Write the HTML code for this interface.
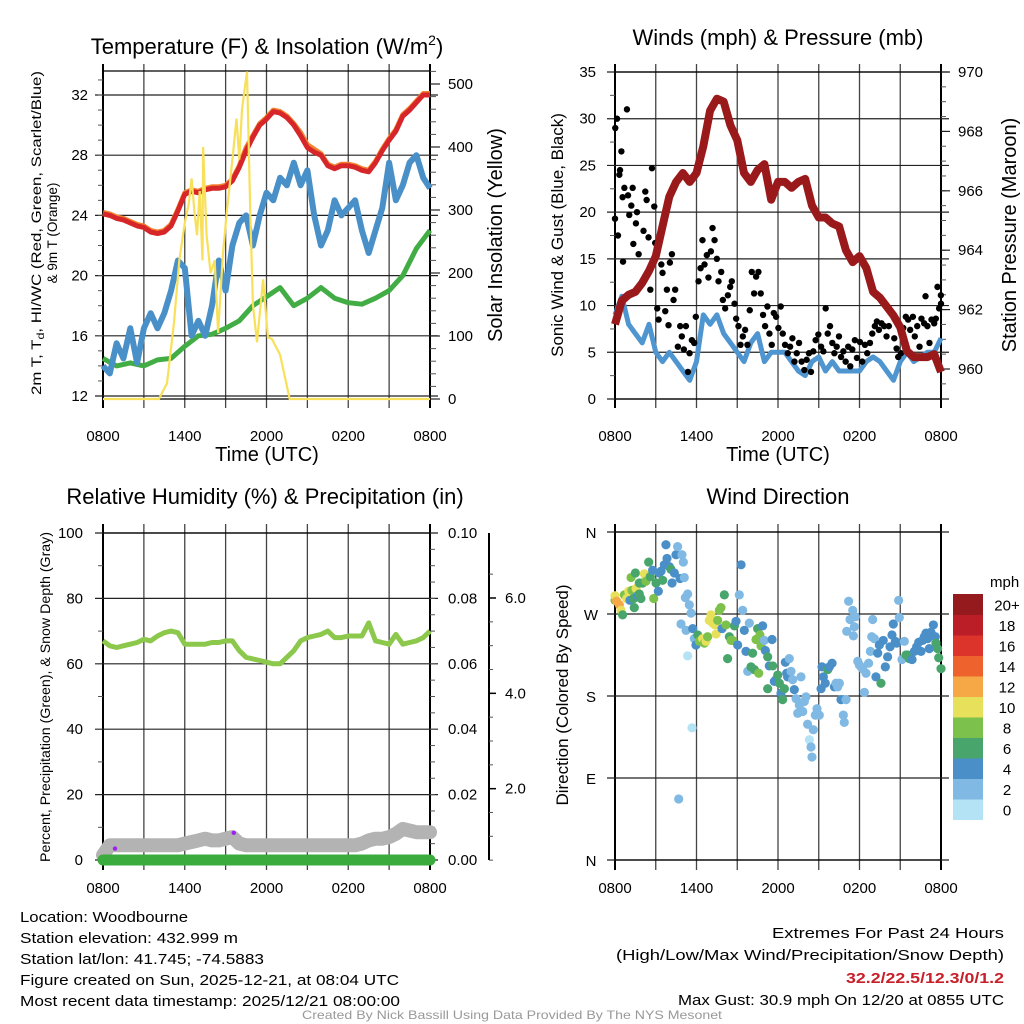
<!DOCTYPE html>
<html><head><meta charset="utf-8"><style>
html,body{margin:0;padding:0;background:#fff;}
svg{display:block;font-family:"Liberation Sans",sans-serif;}
</style></head><body>
<svg id="chart" width="1024" height="1024" viewBox="0 0 1024 1024" xmlns="http://www.w3.org/2000/svg">
<g id="p1"></g>
<g id="p2"></g>
<g id="p3"></g>
<g id="p4"></g>
<g id="txt">
<text x="267" y="54" font-size="22" text-anchor="middle">Temperature (F) &amp; Insolation (W/m<tspan font-size="14" dy="-9">2</tspan><tspan dy="9">)</tspan></text>
<text x="778" y="45" font-size="22" text-anchor="middle">Winds (mph) &amp; Pressure (mb)</text>
<text x="265" y="504" font-size="22" text-anchor="middle">Relative Humidity (%) &amp; Precipitation (in)</text>
<text x="778" y="504" font-size="22" text-anchor="middle">Wind Direction</text>
<text x="267" y="461" font-size="20" text-anchor="middle">Time (UTC)</text>
<text x="778" y="461" font-size="20" text-anchor="middle">Time (UTC)</text>
<text transform="translate(41,233) rotate(-90)" font-size="13.5" text-anchor="middle" textLength="324" lengthAdjust="spacingAndGlyphs">2m T, T<tspan font-size="10" dy="3">d</tspan><tspan dy="-3">, HI/WC (Red, Green, Scarlet/Blue)</tspan></text>
<text transform="translate(57,233) rotate(-90)" font-size="13.5" text-anchor="middle">&amp; 9m T (Orange)</text>
<text transform="translate(502,235) rotate(-90)" font-size="20" text-anchor="middle">Solar Insolation (Yellow)</text>
<text transform="translate(563,235) rotate(-90)" font-size="17" text-anchor="middle">Sonic Wind &amp; Gust (Blue, Black)</text>
<text transform="translate(1016,235) rotate(-90)" font-size="20" text-anchor="middle">Station Pressure (Maroon)</text>
<text transform="translate(50,697) rotate(-90)" font-size="14" text-anchor="middle" textLength="330" lengthAdjust="spacingAndGlyphs">Percent, Precipitation (Green), &amp; Snow Depth (Gray)</text>
<text transform="translate(568,695) rotate(-90)" font-size="17" text-anchor="middle">Direction (Colored By Speed)</text>
<text x="20" y="922" font-size="15" textLength="168" lengthAdjust="spacingAndGlyphs">Location: Woodbourne</text>
<text x="20" y="943" font-size="15" textLength="218" lengthAdjust="spacingAndGlyphs">Station elevation: 432.999 m</text>
<text x="20" y="964" font-size="15" textLength="244" lengthAdjust="spacingAndGlyphs">Station lat/lon: 41.745; -74.5883</text>
<text x="20" y="985" font-size="15" textLength="379" lengthAdjust="spacingAndGlyphs">Figure created on Sun, 2025-12-21, at 08:04 UTC</text>
<text x="20" y="1006" font-size="15" textLength="380" lengthAdjust="spacingAndGlyphs">Most recent data timestamp: 2025/12/21 08:00:00</text>
<text x="1004" y="938" font-size="15" text-anchor="end" textLength="232" lengthAdjust="spacingAndGlyphs">Extremes For Past 24 Hours</text>
<text x="1004" y="960" font-size="15" text-anchor="end" textLength="388" lengthAdjust="spacingAndGlyphs">(High/Low/Max Wind/Precipitation/Snow Depth)</text>
<text x="1004" y="983" font-size="15" font-weight="bold" fill="#c8202a" text-anchor="end" textLength="158" lengthAdjust="spacingAndGlyphs">32.2/22.5/12.3/0/1.2</text>
<text x="1004" y="1005" font-size="15" text-anchor="end" textLength="326" lengthAdjust="spacingAndGlyphs">Max Gust: 30.9 mph On 12/20 at 0855 UTC</text>
<text x="512" y="1019" font-size="12" fill="#999" text-anchor="middle" textLength="420" lengthAdjust="spacingAndGlyphs">Created By Nick Bassill Using Data Provided By The NYS Mesonet</text>
</g>
</svg>
<script>
// ---------- data ----------
const timeLabels = ["0800","1400","2000","0200","0800"];
const halfHours = [0,0.5,1,1.5,2,2.5,3,3.5,4,4.5,5,5.5,6,6.5,7,7.5,8,8.5,9,9.5,10,10.5,11,11.5,12,12.5,13,13.5,14,14.5,15,15.5,16,16.5,17,17.5,18,18.5,19,19.5,20,20.5,21,21.5,22,22.5,23,23.5,24];
const hours = [0,1,2,3,4,5,6,7,8,9,10,11,12,13,14,15,16,17,18,19,20,21,22,23,24];
const tempRed = [24.1,24.0,23.8,23.7,23.5,23.3,23.2,22.9,22.8,22.9,23.3,24.3,25.4,25.6,25.5,25.7,25.8,25.8,25.9,26.3,27.2,28.3,29.2,30.0,30.4,30.9,30.8,30.5,30.0,29.3,28.5,28.2,28.0,27.3,27.1,27.3,27.3,27.2,27.0,26.9,27.5,28.3,29.0,29.6,30.6,31.0,31.5,32.0,32.0];
const temp9m = [24.2,24.1,23.9,23.8,23.6,23.4,23.3,23.0,22.9,23.0,23.4,24.4,25.5,25.7,25.6,25.8,25.9,25.9,26.0,26.4,27.3,28.5,29.3,30.1,30.5,31.0,30.9,30.6,30.1,29.5,28.7,28.4,28.1,27.4,27.2,27.4,27.4,27.3,27.1,27.0,27.6,28.4,29.1,29.7,30.7,31.1,31.6,32.1,32.1];
const tempBlue = [14,13.5,15.5,14.5,16.5,14.2,16.5,17.5,16.5,17.5,19,21,20.5,16,17,16,18,21,19,22,23.5,24,22,24,25.5,25,26.5,26,27.5,26,27,24,22,23,25,24,24.5,25,23,21.5,23,24.5,27.5,25,26,27.5,28,26.5,25.8];
const dewGreen = [14.5,14,14.2,14,14.4,14.5,15.3,16,16.1,16.5,17,18,18.6,19.2,18,18.5,19.2,18.5,18.2,18.1,18.5,19,20,21.8,23];
const insolTimes = [0,4.1,4.7,5.2,5.6,6.0,6.3,6.5,6.7,6.9,7.1,7.3,7.35,7.6,7.9,8.2,8.45,8.8,9.1,9.5,9.8,10.0,10.2,10.57,10.8,11.0,11.3,11.75,12.1,12.4,13.0,13.7,24];
const insolValues = [0,0,25,120,220,280,310,350,300,260,330,220,400,260,200,220,105,230,300,380,445,380,460,520,300,150,90,190,98,95,70,0,0];
const pressure = [961.5,962.3,962.5,962.6,962.9,963.3,963.8,964.8,965.8,966.3,966.6,966.3,966.6,967.5,968.7,969.1,969.0,968.2,967.7,966.6,966.3,966.7,966.9,965.7,966.3,966.3,966.1,966.3,966.4,965.5,965.1,965.1,964.9,964.8,964.0,963.6,963.8,963.4,962.6,962.4,962.1,961.8,961.4,960.6,960.4,960.4,960.4,960.5,959.9];
const windSpeed = [9,11,8,7,6,8,5,4,5,4,3,2,4,9,8,9,7,6,5,4,6,7,4,5,5,5,4,3,2.5,4,4.5,3,4,3,3,3,3,4,4.5,4,3,2,4,5,4,4.5,5,5,6.5];
const gustTimes = [0,0.02,0.15,0.22,0.32,0.37,0.47,0.56,0.69,0.88,0.96,1.05,1.2,1.35,1.3,1.54,1.62,1.74,0.59,2.1,2.23,2.33,2.47,2.6,2.72,2.89,2.96,3.11,3.21,3.41,3.5,3.7,3.82,3.94,4.04,4.19,4.31,4.43,4.63,4.8,4.92,5.07,5.22,5.37,5.49,5.66,5.83,5.95,6.15,6.3,6.44,6.59,6.76,6.88,7.06,7.18,7.33,7.5,7.62,7.82,7.94,8.11,8.31,8.48,8.6,8.8,8.92,9.09,9.24,9.41,9.58,9.75,9.92,10.07,10.24,10.39,10.56,10.73,10.9,11.05,11.22,11.37,11.54,11.69,11.86,12.03,12.2,12.35,12.52,12.72,12.89,13.06,13.21,13.38,13.55,13.74,13.94,14.11,14.28,14.43,14.6,14.77,14.97,15.17,15.34,15.51,15.66,15.83,16,16.15,16.32,16.49,16.64,16.81,16.98,17.17,17.32,17.47,17.66,17.81,18.03,18.2,18.4,18.57,18.77,18.94,19.13,19.28,19.43,19.62,19.82,19.99,20.16,20.36,20.56,20.73,20.85,21.05,21.22,21.41,21.58,21.73,21.93,22.07,22.25,22.42,22.56,22.76,22.86,23,23.15,23.3,23.5,23.62,23.74,23.86,23.99,24];
const gustValues = [19.3,29,30,17.5,24,24.5,26.5,21.6,22.6,31,21.8,19.7,20.7,16.6,22.6,18.8,20,15.5,14.7,18,22.2,21.3,17.3,11.7,24.7,20.6,16.7,9.7,8.5,14.4,13.5,9.4,11.7,7.9,14.6,15.5,10.6,11.7,5.6,7.8,6.7,5.3,7.8,2.9,4.9,6.3,6,8.8,12.6,14,17,14.4,15.4,13,15.8,18.3,17,15,12.6,13.6,10.6,9.7,11.1,12,12.6,10.2,8.6,7.8,5.8,6.7,7.4,5.8,9.5,13.6,11.3,13.1,13.6,11.3,9,7.8,9.9,7,5.8,9.2,8.8,7.6,9.9,7,5.8,4.9,5.6,6.5,4,4.9,6,4,3.1,4.2,4.9,2.9,5.1,6.3,6.9,5.6,5.1,9.7,7,7.8,6,4.9,5.6,6.7,4.5,5.1,4,5.6,3.5,5.3,6.3,4.4,6.1,4,5.8,4.9,6,7,7.8,8.3,7.4,8.1,7.8,6.7,7.8,9.2,6.5,5.4,4.5,4.9,7.6,8.8,8.5,7.4,8.8,6.7,7.8,5.6,8.6,8.1,11,7.8,6,8.5,8.1,8.6,12,9.7,11.1,10.2];
const rhValues = [67,65.5,65,65.5,66,66.5,67.5,67,68.5,69.5,70,69.5,66,66,66,66,66.5,66.5,67,67,64,62,61.5,61,60.5,60,60,62,64,67,68,68.5,69,70,68,68,68.5,68.5,68.5,72.5,67,66.5,66,69,66,66.5,67,68,70];
const snowValues = [1.5,4.5,4.5,4.5,4.5,4.5,4.5,4.5,4.5,4.5,4.5,4.5,5,5.5,6,6.5,6,6,6.5,7,5,4.5,4.5,4.5,4.5,4.5,4.5,4.5,4.5,4.5,4.5,4.5,4.5,4.5,4.5,4.5,4.5,4.5,5,6,6.5,6.5,7,8,9.5,9,8.5,8.5,8.5];
const precipValues = [0,0,0,0,0,0,0,0,0,0,0,0,0,0,0,0,0,0,0,0,0,0,0,0,0];
const markerTimes = [0.88,9.6];
const markerValues = [3.5,8.3];
const dirTimes = [0,0,0.12,0.32,0.44,0.56,0.69,0.86,1.01,1.1,1.25,1.37,1.42,1.55,1.67,1.79,1.91,1.18,1.5,1.79,2.04,2.16,2.28,2.48,2.6,2.77,2.85,3.02,3.19,3.26,3.39,3.51,3.63,3.75,3.83,4.0,4.12,4.2,4.37,4.49,4.61,4.79,4.93,5.03,5.1,5.18,5.35,5.47,5.6,4.86,5.23,5.72,5.84,5.96,6.09,6.21,6.45,6.58,6.7,6.82,6.94,7.07,7.19,7.36,7.44,7.56,7.68,7.8,7.88,8.05,8.17,8.29,8.42,8.54,8.66,8.79,8.91,9.03,9.15,9.28,9.4,9.52,9.64,9.77,9.89,10.01,10.13,10.26,10.38,10.5,10.58,10.67,10.75,10.87,10.99,11.07,11.24,11.36,11.56,11.24,11.61,11.73,11.85,11.98,12.1,12.22,12.34,12.47,12.54,12.64,12.71,12.83,12.96,13.08,13.2,13.33,13.45,13.57,13.69,13.82,13.94,14.06,14.18,14.31,14.43,14.5,14.6,14.75,14.87,15.04,15.17,15.24,15.34,15.48,15.66,15.78,15.98,16.15,16.27,16.39,16.52,16.64,16.81,16.88,17.01,17.06,17.2,17.3,17.5,17.62,17.55,17.69,17.87,17.99,18.11,18.23,18.36,18.48,18.67,18.8,18.97,18.9,19.09,19.21,19.34,19.46,19.58,19.75,19.9,20.07,20.25,20.39,20.49,20.64,20.74,20.88,20.93,21.13,21.3,21.42,21.55,21.67,21.87,22.04,22.21,22.36,22.53,22.65,22.77,22.9,23.02,23.14,23.26,23.44,23.58,23.63,23.75,23.83,24.0,4.69,5.67,5.35];
const dirValues = [285,290,284,280,274,269,291,287,295,285,296,287,277,298,290,292,287,310,315,304,304,314,306,327,311,318,287,304,295,315,317,307,324,346,331,322,319,304,315,335,344,309,335,327,310,288,292,280,271,259,252,254,243,236,247,240,243,238,240,245,263,269,260,258,248,263,274,277,254,291,258,221,245,241,241,257,262,236,291,324,274,252,229,207,260,212,227,209,242,254,205,247,235,257,241,230,223,213,242,188,213,196,198,203,194,183,176,188,217,205,201,221,207,198,187,177,161,170,201,163,174,179,149,132,124,113,143,159,166,159,188,212,201,194,209,212,216,190,194,190,194,176,159,151,176,251,284,264,274,256,246,267,218,214,212,210,184,205,216,229,264,245,243,201,227,236,194,241,212,223,234,247,259,240,238,285,266,220,240,225,225,221,220,229,234,239,229,241,245,249,243,232,250,258,245,238,232,222,210,67,145,224];
const dirSpeeds = [8,10,12,13,10,6,8,10,10,4,8,6,6,10,4,6,6,8,6,6,6,10,8,6,6,4,8,6,4,4,4,6,4,4,4,4,6,4,4,4,2,4,2,2,2,2,2,2,2,2,2,4,2,4,6,8,10,8,10,8,10,10,10,10,10,8,8,8,4,6,8,6,6,8,8,6,4,4,2,4,2,4,4,2,2,6,6,6,8,6,8,8,8,4,2,4,6,4,4,6,6,4,4,6,6,4,6,6,4,4,4,2,2,2,4,2,2,2,2,2,2,2,2,0,2,2,2,2,2,2,4,4,4,4,6,4,4,4,2,2,2,4,2,2,2,2,2,2,2,2,2,2,2,2,2,2,2,2,2,2,2,2,2,4,4,4,6,4,4,4,4,4,4,4,4,2,2,2,2,6,6,6,4,4,4,4,4,4,4,4,4,4,4,4,4,6,6,6,6,2,0,0];
const speedBins = ["0","2","4","6","8","10","12","14","16","18","20+"];
const speedColors = ["#b4e3f6","#80b9e3","#4a8fc7","#48a66d","#7cc14b","#e6e05a","#f5a845","#ee632d","#dc342a","#bb1e26","#941a1d"];

// ---------- helpers ----------
const NS="http://www.w3.org/2000/svg";
function mk(parent,tag,attrs){const e=document.createElementNS(NS,tag);for(const k in attrs)e.setAttribute(k,attrs[k]);parent.appendChild(e);return e;}
function xAxis(x0,x1){return t=>x0+t/24*(x1-x0);}
function lin(d0,d1,r0,r1){return v=>r0+(v-d0)/(d1-d0)*(r1-r0);}
function pathD(xs,ys,fx,fy){return xs.map((t,i)=>(i?"L":"M")+fx(t).toFixed(1)+","+fy(ys[i]).toFixed(1)).join("");}

function frame(g,x0,x1,yt,yb,gridY,labelX,xlabY,vExtTop,vExtBot){
  for(let h=0;h<=24;h+=3){
    const x=x0+h/24*(x1-x0);
    const l=mk(g,"line",{x1:x,x2:x,y1:vExtTop,y2:vExtBot,stroke:(h==0||h==24)?"#000":"#444","stroke-width":(h==0||h==24)?2:1.3});
    
    
  }
  gridY.forEach(y=>{
    const l=mk(g,"line",{x1:x0-8,x2:x1+8,y1:y,y2:y,stroke:"#222","stroke-width":1.2});
    
    
  });
  mk(g,"line",{x1:x0,x2:x1,y1:yt,y2:yt,stroke:"#000","stroke-width":1.3});
  mk(g,"line",{x1:x0,x2:x1,y1:yb,y2:yb,stroke:"#000","stroke-width":1.3});
  if(labelX){
    timeLabels.forEach((s,i)=>{
      const t=mk(g,"text",{x:x0+i*6/24*(x1-x0),y:xlabY,"font-size":15,"text-anchor":"middle"});
      t.textContent=s;
      
      
    });
  }
}
function yLabels(g,vals,fy,x,anchor,fmt){
  vals.forEach(v=>{
    const t=mk(g,"text",{x:x,y:fy(v)+5,"font-size":15,"text-anchor":anchor});
    t.textContent=fmt?fmt(v):String(v);
    
    
  });
}
function minorTicks(g,x,vals,fy,dir,len){
  vals.forEach(v=>{mk(g,"line",{x1:x,x2:x+dir*len,y1:fy(v),y2:fy(v),stroke:"#555","stroke-width":1});});
}

// ---------- panel 1 ----------
(function(){
  const g=document.getElementById("p1");
  const fx=xAxis(103,430), fy=lin(12,32,396,95), fi=lin(0,500,399,84);
  frame(g,103,430,71,399,[12,16,20,24,28,32].map(fy),true,441,64,408);
  const lt=[];for(let v=13;v<=33;v+=1)lt.push(v);minorTicks(g,103,lt,fy,-1,5);
  const rt=[];for(let v=20;v<=520;v+=20)rt.push(v);minorTicks(g,430,rt,fi,1,6);
  [0,100,200,300,400,500].forEach(v=>mk(g,"line",{x1:430,x2:440,y1:fi(v),y2:fi(v),stroke:"#222","stroke-width":1.2}));
  yLabels(g,[12,16,20,24,28,32],fy,88,"end");
  yLabels(g,[0,100,200,300,400,500],fi,448,"start");
  const s=[["9m-temperature-line",halfHours,temp9m,"#f3812f",5],["temperature-line",halfHours,tempRed,"#d7262a",5],["dewpoint-line",hours,dewGreen,"#42ad45",5],["windchill-line",halfHours,tempBlue,"#4a90c8",6]];
  s.forEach(([n,xs,ys,c,w])=>{
    const p=mk(g,"path",{d:pathD(xs,ys,fx,fy),fill:"none",stroke:c,"stroke-width":w,"stroke-linejoin":"round"});
    
    
  });
  const p=mk(g,"path",{d:pathD(insolTimes,insolValues,fx,fi),fill:"none",stroke:"#f8e05a","stroke-width":2.2});
  
  
})();

// ---------- panel 2 ----------
(function(){
  const g=document.getElementById("p2");
  const fx=xAxis(615,941), fy=lin(0,35,399,72), fp=lin(960,970,369,72);
  frame(g,615,941,72,399,[0,5,10,15,20,25,30,35].map(fy),true,441,64,408);
  const lt=[];for(let v=2.5;v<35;v+=5)lt.push(v);minorTicks(g,615,lt,fy,-1,5);
  const rt=[];for(let v=959.5;v<=970;v+=0.5)rt.push(v);minorTicks(g,941,rt,fp,1,5);
  [960,962,964,966,968,970].forEach(v=>mk(g,"line",{x1:941,x2:950,y1:fp(v),y2:fp(v),stroke:"#222","stroke-width":1.2}));
  yLabels(g,[0,5,10,15,20,25,30,35],fy,596,"end");
  yLabels(g,[960,962,964,966,968,970],fp,958,"start");
  const w=mk(g,"path",{d:pathD(halfHours,windSpeed,fx,fy),fill:"none",stroke:"#4f95d0","stroke-width":5,"stroke-linejoin":"round"});
  
  
  gustTimes.forEach((t,i)=>{
    const c=mk(g,"circle",{cx:fx(t),cy:fy(gustValues[i]),r:3.2,fill:"#000"});
    
    
  });
  const p=mk(g,"path",{d:pathD(halfHours,pressure,fx,fp),fill:"none",stroke:"#9a1a1c","stroke-width":8,"stroke-linejoin":"round"});
  
  
})();

// ---------- panel 3 ----------
(function(){
  const g=document.getElementById("p3");
  const fx=xAxis(103,430), fy=lin(0,100,860,533), fr=lin(0,0.1,860,533), fs=lin(0,6,884,598);
  frame(g,103,430,533,860,[0,20,40,60,80,100].map(fy),true,893,524,870);
  const lt=[];for(let v=10;v<100;v+=20)lt.push(v);minorTicks(g,103,lt,fy,-1,5);
  const rt=[];for(let v=0.005;v<0.1;v+=0.005)rt.push(v);minorTicks(g,430,rt,fr,1,5);
  yLabels(g,[0,20,40,60,80,100],fy,83,"end");
  yLabels(g,[0,0.02,0.04,0.06,0.08,0.1],fr,448,"start",v=>v.toFixed(2));
  const ax=mk(g,"line",{x1:489,x2:489,y1:533,y2:860,stroke:"#000","stroke-width":2});
  
  
  const st=[];for(let v=0.5;v<=6.75;v+=0.5)st.push(v);minorTicks(g,489,st.filter(v=>fs(v)>=533),fs,1,4);
  [2,4,6].forEach(v=>mk(g,"line",{x1:489,x2:496,y1:fs(v),y2:fs(v),stroke:"#000","stroke-width":1.5}));
  yLabels(g,[2,4,6],fs,505,"start",v=>v.toFixed(1));
  const sn=mk(g,"path",{d:pathD(halfHours,snowValues,fx,fy),fill:"none",stroke:"#b3b3b3","stroke-width":14,"stroke-linejoin":"round","stroke-linecap":"round"});
  
  
  const pr=mk(g,"path",{d:pathD(hours,precipValues,fx,fr),fill:"none",stroke:"#3bab3d","stroke-width":11,"stroke-linecap":"round"});
  
  
  const rh=mk(g,"path",{d:pathD(halfHours,rhValues,fx,fy),fill:"none",stroke:"#8cc84b","stroke-width":5,"stroke-linejoin":"round"});
  
  
  markerTimes.forEach((t,i)=>{
    const c=mk(g,"circle",{cx:fx(t),cy:fy(markerValues[i]),r:2.2,fill:"#a020f0"});
    
    
  });
})();

// ---------- panel 4 ----------
(function(){
  const g=document.getElementById("p4");
  const fx=xAxis(615,941), fy=lin(0,360,860,532);
  frame(g,615,941,532,860,[0,90,180,270,360].map(fy),true,893,524,870);
  const dl=["N","E","S","W","N"];
  [0,90,180,270,360].forEach((v,i)=>{
    const t=mk(g,"text",{x:591,y:fy(v)+6,"font-size":15,"text-anchor":"middle"});
    t.textContent=dl[i];
    
    
  });
  dirTimes.forEach((t,i)=>{
    const b=Math.min(10,Math.floor(dirSpeeds[i]/2));
    const c=mk(g,"circle",{cx:fx(t),cy:fy(dirValues[i]),r:4.6,fill:speedColors[b]});
    
    
  });
  const t=mk(g,"text",{x:990,y:587,"font-size":15});
  t.textContent="mph";
  
  
  const h=20.5, top=594;
  speedBins.forEach((lab,i)=>{
    const y=top+(10-i)*h;
    const r=mk(g,"rect",{x:953,y:y,width:30,height:h+0.5,fill:speedColors[i]});
    
    
    const tx=mk(g,"text",{x:1007,y:y+h/2+6,"font-size":15,"text-anchor":"middle"});
    tx.textContent=lab;
    
    
  });
})();
</script>
</body></html>
